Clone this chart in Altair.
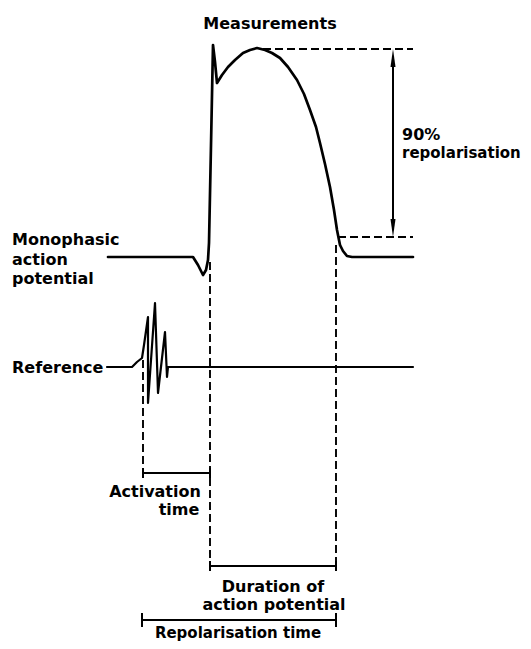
import altair as alt
import pandas as pd

# Monophasic action potential trace (x, y in picture units, y downward)
ap_x = [108, 185, 193, 198, 203, 206, 208, 209, 211, 213, 215, 217, 222, 228, 235, 243, 250, 257, 265, 272, 280, 288, 297, 304, 310, 316, 320, 325, 330, 334, 337, 340, 343, 347, 352, 413]
ap_y = [257, 257, 257, 265, 275, 270, 260, 243, 145, 45, 62, 83, 75, 67, 60, 53, 50, 48, 50, 53, 58, 67, 80, 94, 110, 127, 143, 164, 187, 210, 230, 245, 251, 256, 257, 257]

# Reference electrogram trace
ref_x = [107, 132, 137, 142, 144, 148, 148, 155, 158, 165, 167, 168, 413]
ref_y = [367, 367, 362, 358, 345, 317, 403, 303, 393, 332, 377, 367, 367]

# Dashed guide segments
dash_x1 = [143, 210, 336, 263, 338]
dash_y1 = [360, 262, 245, 49, 237]
dash_x2 = [143, 210, 336, 413, 413]
dash_y2 = [473, 566, 566, 49, 237]

# Solid bracket segments (bars + end ticks) and arrow shaft
sol_x1 = [143, 143, 210, 210, 210, 336, 142, 142, 336, 393]
sol_y1 = [473, 468, 468, 566, 561, 561, 620, 613, 613, 58]
sol_x2 = [210, 143, 210, 336, 210, 336, 336, 142, 336, 393]
sol_y2 = [473, 478, 478, 566, 571, 571, 620, 627, 627, 228]

# Arrow heads (centre positions)
head_x = [393, 393]
head_y = [58, 228]
head_dir = ["up", "down"]

# Labels
lab_text = ["Measurements", "90%", "repolarisation", "Monophasic", "action", "potential",
            "Reference", "Activation", "time", "Duration of", "action potential", "Repolarisation time"]
lab_x = [270, 402, 402, 12, 12, 12, 12, 155, 179, 273, 274, 238]
lab_y = [29, 140, 158, 245, 265, 284, 373, 497, 515, 592, 610, 638]
lab_align = ["center", "left", "left", "left", "left", "left", "left", "center", "center", "center", "center", "center"]
lab_small = [False, False, True, False, False, False, False, False, False, False, False, True]

X0, X1, Y0, Y1 = 8, 523, 8, 641
xs = alt.Scale(domain=[X0, X1], nice=False, zero=False)
ys = alt.Scale(domain=[Y0, Y1], nice=False, zero=False, reverse=True)

ap = pd.DataFrame({"x": ap_x, "y": ap_y, "o": range(len(ap_x))})
ref = pd.DataFrame({"x": ref_x, "y": ref_y, "o": range(len(ref_x))})
dash = pd.DataFrame({"x": dash_x1, "y": dash_y1, "x2": dash_x2, "y2": dash_y2})
sol = pd.DataFrame({"x": sol_x1, "y": sol_y1, "x2": sol_x2, "y2": sol_y2})
heads = pd.DataFrame({"x": head_x, "y": head_y, "d": head_dir})
labs = pd.DataFrame({"t": lab_text, "x": lab_x, "y": lab_y, "a": lab_align, "s": lab_small})

X = lambda f="x": alt.X(f"{f}:Q", scale=xs, axis=None)
Y = lambda f="y": alt.Y(f"{f}:Q", scale=ys, axis=None)

ap_line = alt.Chart(ap).mark_line(color="black", strokeWidth=2.7, strokeCap="round", strokeJoin="round").encode(
    x=X(), y=Y(), order="o:Q")
ref_line = alt.Chart(ref).mark_line(color="black", strokeWidth=2.2, strokeCap="round", strokeJoin="round").encode(
    x=X(), y=Y(), order="o:Q")
dash_rules = alt.Chart(dash).mark_rule(color="black", strokeWidth=1.9, strokeDash=[8, 4]).encode(
    x=X(), y=Y(), x2="x2:Q", y2="y2:Q")
sol_rules = alt.Chart(sol).mark_rule(color="black", strokeWidth=2).encode(
    x=X(), y=Y(), x2="x2:Q", y2="y2:Q")
up_head = alt.Chart(heads[heads.d == "up"]).mark_point(
    shape="M0,-1L0.28,1L-0.28,1Z", size=324, filled=True, color="black", opacity=1).encode(x=X(), y=Y())
down_head = alt.Chart(heads[heads.d == "down"]).mark_point(
    shape="M0,1L0.28,-1L-0.28,-1Z", size=324, filled=True, color="black", opacity=1).encode(x=X(), y=Y())

texts = []
for al in ["left", "center"]:
    for sm in [False, True]:
        sub = labs[(labs.a == al) & (labs.s == sm)]
        if len(sub) == 0:
            continue
        texts.append(alt.Chart(sub).mark_text(
            font="DejaVu Sans", fontWeight="bold", fontSize=15 if sm else 16, align=al,
            baseline="alphabetic", color="black").encode(x=X(), y=Y(), text="t:N"))

chart = alt.layer(dash_rules, sol_rules, ap_line, ref_line, up_head, down_head, *texts).properties(
    width=X1 - X0, height=Y1 - Y0, autosize="none", padding=0, background="transparent"
).configure_view(strokeWidth=0, fill=None)

chart.save("out.html", embed_options={"renderer": "svg", "actions": False})
